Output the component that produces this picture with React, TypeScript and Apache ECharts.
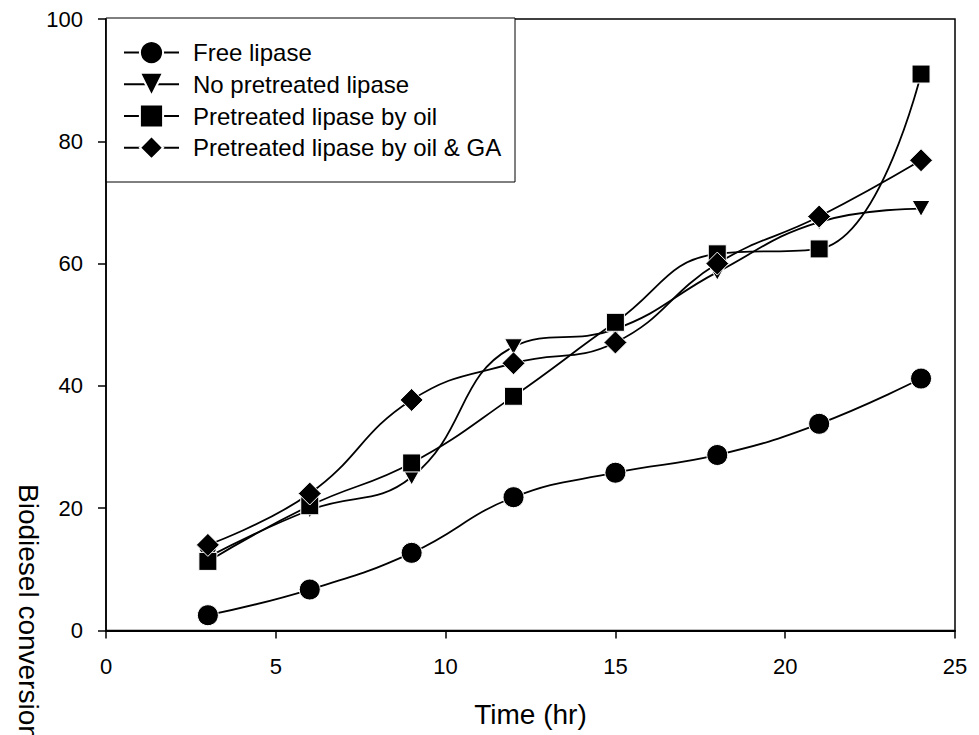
import React, { useEffect, useRef } from "react";
import * as echarts from "echarts";

const timeHr = [3, 6, 9, 12, 15, 18, 21, 24];
const freeLipase = [2.5, 6.7, 12.7, 21.8, 25.8, 28.7, 33.8, 41.2];
const noPretreated = [12.0, 19.7, 25.1, 46.4, 49.3, 58.6, 66.8, 69.0];
const pretreatedOil = [11.3, 20.4, 27.4, 38.3, 50.4, 61.6, 62.4, 91.0];
const pretreatedOilGA = [14.0, 22.4, 37.7, 43.7, 47.1, 60.0, 67.7, 76.9];
const seriesNames = [
  "Free lipase",
  "No pretreated lipase",
  "Pretreated lipase by oil",
  "Pretreated lipase by oil & GA",
];
const xTicks = { min: 0, max: 25, interval: 5 };
const yTicks = { min: 0, max: 100, interval: 20 };

const FONT = "'Liberation Sans', Arial, Helvetica, sans-serif";

export default function App() {
  const ref = useRef<HTMLDivElement>(null);
  useEffect(() => {
    if (!ref.current) return;
    const chart = echarts.init(ref.current, null, { renderer: "svg" });
    const pairs = (vals: number[]) => timeHr.map((t, i) => [t, vals[i]]);
    const common = {
      type: "line",
      smooth: 0.45,
      lineStyle: { color: "#000", width: 1.8 },
      itemStyle: { color: "#000", borderColor: "#fff", borderWidth: 1 },
      emphasis: { disabled: true },
    };
    chart.setOption({
      animation: false,
      backgroundColor: "#fff",
      textStyle: { fontFamily: FONT },
      grid: {
        left: 106,
        right: 24,
        top: 19,
        bottom: 104.5,
        show: true,
        borderColor: "#000",
        borderWidth: 1.5,
        backgroundColor: "transparent",
      },
      xAxis: {
        type: "value",
        min: xTicks.min,
        max: xTicks.max,
        interval: xTicks.interval,
        name: "Time (hr)",
        nameLocation: "middle",
        nameGap: 70,
        nameTextStyle: { fontSize: 28, color: "#000", fontFamily: FONT },
        axisLine: { show: true, lineStyle: { color: "#000", width: 1.8 } },
        axisTick: { show: true, inside: false, length: 8, lineStyle: { color: "#000", width: 1.5 } },
        axisLabel: { fontSize: 22, color: "#000", margin: 25, fontFamily: FONT },
        splitLine: { show: false },
      },
      yAxis: {
        type: "value",
        min: yTicks.min,
        max: yTicks.max,
        interval: yTicks.interval,
        axisLine: { show: true, lineStyle: { color: "#000", width: 1.5 } },
        axisTick: { show: true, inside: false, length: 8, lineStyle: { color: "#000", width: 1.5 } },
        axisLabel: { fontSize: 22, color: "#000", margin: 23, fontFamily: FONT },
        splitLine: { show: false },
      },
      legend: {
        orient: "vertical",
        left: 123,
        top: 40,
        padding: 0,
        itemWidth: 55,
        itemHeight: 29,
        itemGap: 6.5,
        z: 10,
        data: seriesNames,
        textStyle: {
          fontSize: 24,
          lineHeight: 24,
          color: "#000",
          fontFamily: FONT,
          padding: [0, 0, 0, 9],
        },
      },
      graphic: [
        {
          type: "rect",
          z: 0,
          shape: { x: 106, y: 18, width: 409, height: 164 },
          style: { fill: "#fff", stroke: "#000", lineWidth: 1 },
        },
        {
          type: "text",
          x: 28,
          y: 484,
          rotation: -Math.PI / 2,
          style: {
            text: "Biodiesel conversion (%)",
            font: `28px ${FONT}`,
            fill: "#000",
            align: "left",
            verticalAlign: "middle",
            textAlign: "left",
            textVerticalAlign: "middle",
          },
        },
      ],
      series: [
        { ...common, name: seriesNames[0], data: pairs(freeLipase), symbol: "circle", symbolSize: 21 },
        {
          ...common,
          name: seriesNames[1],
          data: pairs(noPretreated),
          symbol: "triangle",
          symbolSize: [18, 16],
          symbolRotate: 180,
        },
        { ...common, name: seriesNames[2], data: pairs(pretreatedOil), symbol: "rect", symbolSize: 18 },
        { ...common, name: seriesNames[3], data: pairs(pretreatedOilGA), symbol: "diamond", symbolSize: 23 },
      ],
    });
    return () => chart.dispose();
  }, []);
  return (
    <div
      ref={ref}
      style={{ position: "fixed", left: 0, top: 0, width: 979, height: 735, background: "#fff" }}
    />
  );
}
